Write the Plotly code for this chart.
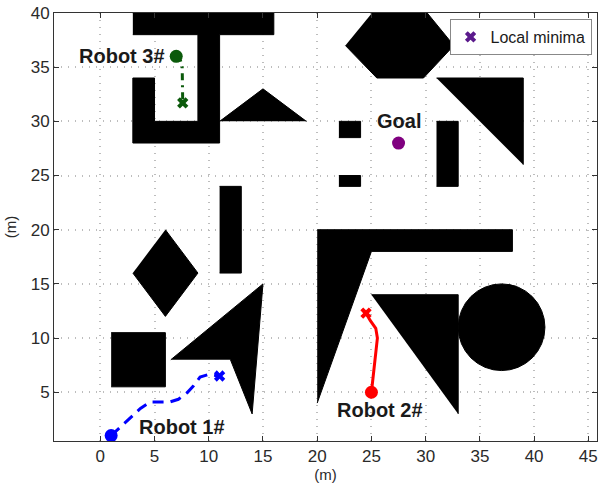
import plotly.graph_objects as go

# ---------------- data ----------------
# obstacle polygons (x list, y list)
obs_jshape_x = [3, 16, 16, 11, 11, 3, 3, 5, 5, 9, 9, 3]
obs_jshape_y = [40, 40, 38, 38, 28, 28, 34, 34, 30, 30, 38, 38]
obs_tri1_x = [11, 15, 19]
obs_tri1_y = [30, 33, 30]
obs_bar1_x = [11, 13, 13, 11]
obs_bar1_y = [16, 16, 24, 24]
obs_diamond_x = [6, 9, 6, 3]
obs_diamond_y = [20, 16, 12, 16]
obs_square_x = [1, 6, 6, 1]
obs_square_y = [5.5, 5.5, 10.5, 10.5]
obs_arrow_x = [6.5, 15, 14, 12]
obs_arrow_y = [8, 15, 3, 8]
obs_hex_x = [22.6, 25.5, 29.8, 32.6, 29.9, 25.3]
obs_hex_y = [37, 34, 34, 37, 40.3, 40.3]
obs_rect_a_x = [22, 24, 24, 22]
obs_rect_a_y = [28.5, 28.5, 30, 30]
obs_rect_b_x = [22, 24, 24, 22]
obs_rect_b_y = [24, 24, 25, 25]
obs_bar2_x = [31, 33, 33, 31]
obs_bar2_y = [24, 24, 30, 30]
obs_tri2_x = [31, 39, 39]
obs_tri2_y = [34, 34, 26]
obs_lshape_x = [20, 38, 38, 25, 20]
obs_lshape_y = [20, 20, 18, 18, 4]
obs_tri3_x = [25, 33, 33]
obs_tri3_y = [14, 14, 3]
circle_center = (37, 11)
circle_radius = 4

obstacles = [
    (obs_jshape_x, obs_jshape_y), (obs_tri1_x, obs_tri1_y), (obs_bar1_x, obs_bar1_y),
    (obs_diamond_x, obs_diamond_y), (obs_square_x, obs_square_y), (obs_arrow_x, obs_arrow_y),
    (obs_hex_x, obs_hex_y), (obs_rect_a_x, obs_rect_a_y), (obs_rect_b_x, obs_rect_b_y),
    (obs_bar2_x, obs_bar2_y), (obs_tri2_x, obs_tri2_y), (obs_lshape_x, obs_lshape_y),
    (obs_tri3_x, obs_tri3_y),
]

# robot paths
robot1_x = [1, 2.5, 3.7, 4.6, 5.5, 6.4, 7.2, 8.0, 8.6, 9.2, 10.0, 11.0]
robot1_y = [1, 2.4, 3.5, 4.1, 4.1, 4.1, 4.35, 4.95, 5.6, 6.4, 6.65, 6.5]
robot2_x = [25, 25.3, 25.55, 25.4, 24.9, 24.5]
robot2_y = [5, 8, 10, 10.9, 11.6, 12.3]
robot3_x = [7, 7.4, 7.55, 7.6, 7.6]
robot3_y = [36, 35.6, 35.0, 33.0, 31.7]
goal_x, goal_y = 27.5, 28

labels = ["Robot 1#", "Robot 2#", "Robot 3#", "Goal"]
label_x = [7.5, 25.8, 2.0, 27.5]
label_y = [1.8, 3.4, 36.0, 30.0]

x_ticks = [0, 5, 10, 15, 20, 25, 30, 35, 40, 45]
y_ticks = [5, 10, 15, 20, 25, 30, 35, 40]

FONT = "Liberation Sans, Arial, Helvetica"

# ---------------- figure ----------------
fig = go.Figure()

for ox, oy in obstacles:
    fig.add_trace(go.Scatter(x=ox, y=oy, fill="toself", fillcolor="black", mode="lines",
                             line=dict(color="black", width=1), showlegend=False,
                             hoverinfo="skip"))

fig.add_shape(type="circle", xref="x", yref="y",
              x0=circle_center[0] - circle_radius, x1=circle_center[0] + circle_radius,
              y0=circle_center[1] - circle_radius, y1=circle_center[1] + circle_radius,
              fillcolor="black", line=dict(color="black", width=1), layer="above")

paths = [
    (robot1_x, robot1_y, "#0000ff", "11px,7px"),
    (robot2_x, robot2_y, "#ff0000", "solid"),
    (robot3_x, robot3_y, "#0b5a0b", "7px,5px,2px,5px"),
]
for px, py, col, dash in paths:
    fig.add_trace(go.Scatter(x=px, y=py, mode="lines", line=dict(color=col, width=3, dash=dash),
                             showlegend=False))
    fig.add_trace(go.Scatter(x=[px[0]], y=[py[0]], mode="markers",
                             marker=dict(symbol="circle", size=13, color=col), showlegend=False))
    fig.add_trace(go.Scatter(x=[px[-1]], y=[py[-1]], mode="markers",
                             marker=dict(symbol="x", size=10, color=col), showlegend=False))

fig.add_trace(go.Scatter(x=[goal_x], y=[goal_y], mode="markers",
                         marker=dict(symbol="circle", size=13, color="#800080"), showlegend=False))

fig.add_trace(go.Scatter(x=[None], y=[None], mode="markers", name="Local minima",
                         marker=dict(symbol="x", size=10, color="#5b1a8c")))

for t, tx, ty in zip(labels, label_x, label_y):
    fig.add_annotation(x=tx, y=ty, text="<b>%s</b>" % t, showarrow=False,
                       font=dict(family=FONT, size=20, color="#1a1a1a"))

axis_common = dict(showgrid=True, gridcolor="#bdbdbd", griddash="1px,6px", gridwidth=1.5,
                   zeroline=False, showline=True, linecolor="#333333", linewidth=1,
                   mirror="ticks", ticks="inside", ticklen=5, tickcolor="#333333",
                   automargin=False, ticklabeloverflow="allow",
                   tickfont=dict(family=FONT, size=17, color="#2a2a2a"))

fig.update_xaxes(range=[-4.27, 45.8], tickvals=x_ticks, **axis_common,
                 title=dict(text="(m)", font=dict(family=FONT, size=15, color="#2a2a2a"),
                            standoff=2))
fig.update_yaxes(range=[0.5, 40], tickvals=y_ticks, **axis_common,
                 title=dict(text="(m)", font=dict(family=FONT, size=15, color="#2a2a2a"),
                            standoff=10))

fig.update_layout(
    width=599, height=489,
    margin=dict(l=54, r=2, t=13, b=48, autoexpand=False),
    plot_bgcolor="white", paper_bgcolor="white",
    showlegend=True,
    legend=dict(x=0.99, y=0.986, xanchor="right", yanchor="top",
                bordercolor="#888888", borderwidth=1, bgcolor="white",
                font=dict(family=FONT, size=16, color="#1a1a1a"),
                itemwidth=30, tracegroupgap=0),
)

# remove the default page margin so the figure sits at the window's top-left corner
fig.write_html("out.html", config={"displayModeBar": False},
               post_script="document.body.style.margin='0';")
